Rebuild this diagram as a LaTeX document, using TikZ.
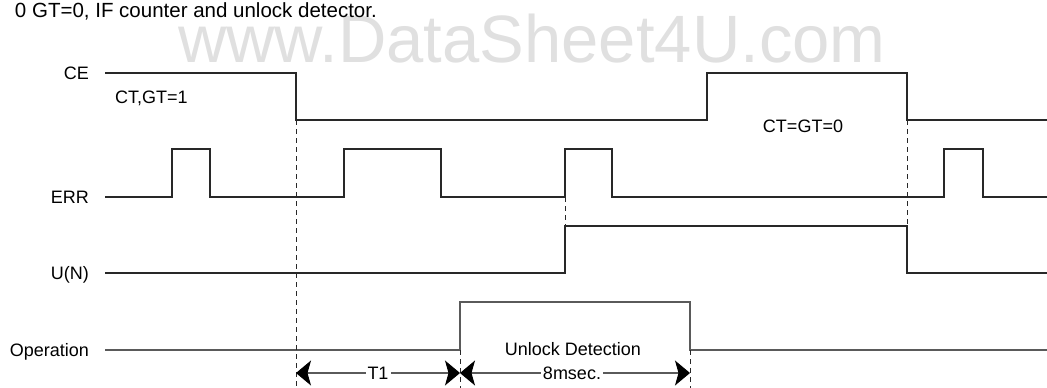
\documentclass[tikz,border=0pt]{standalone}
\usepackage{fontspec}
\setmainfont{Liberation Sans}
\usetikzlibrary{arrows.meta}
\definecolor{wmgray}{RGB}{224,224,224}
\definecolor{wavec}{RGB}{40,40,40}
\definecolor{opc}{RGB}{90,90,90}
\begin{document}
\begin{tikzpicture}[x=1pt,y=-1pt,
  lbl/.style={font=\fontsize{18}{20}\selectfont, inner sep=0pt},
  wave/.style={line width=1.2pt, draw=wavec, line join=miter},
  opwave/.style={line width=1.3pt, draw=opc},
  guide/.style={line width=0.9pt, draw=wavec, dash pattern=on 5pt off 4pt},
  dimline/.style={line width=1.1pt, draw=opc,
    {Stealth[length=15pt,width=25pt,inset=3.5pt,color=black]}-{Stealth[length=15pt,width=25pt,inset=3.5pt,color=black]}},
  dimlbl/.style={font=\fontsize{18}{20}\selectfont, fill=white, inner sep=2pt}]
\useasboundingbox (0,0) rectangle (1047,388);

% watermark and caption
\node[anchor=base west, font=\fontsize{67}{70}\selectfont, text=wmgray, inner sep=0pt] (wm) at (178,62) {www.DataSheet4U.com};
\node[anchor=base east, font=\fontsize{20.5}{22}\selectfont, inner sep=0pt] (title) at (377,17) {0 GT=0, IF counter and unlock detector.};

% signal names
\node[lbl, anchor=base east] (ce) at (89,79.5) {CE};
\node[lbl, anchor=base east] (err) at (89,203.5) {ERR};
\node[lbl, anchor=base east] (un) at (89,279.5) {U(N)};
\node[lbl, anchor=base east] (op) at (89,356.5) {Operation};

% annotations
\node[lbl, anchor=base west] (ct1) at (115,103.5) {CT,GT=1};
\node[lbl, anchor=base] (ct0) at (803,132.5) {CT=GT=0};
\node[lbl, anchor=base] (ud) at (573,355) {Unlock Detection};

% waveforms
\draw[wave] (105,73) -- (296,73) -- (296,120) -- (707,120) -- (707,73) -- (907,73) -- (907,120) -- (1047,120);
\draw[wave] (105,197) -- (172,197) -- (172,149) -- (210,149) -- (210,197)
  -- (344,197) -- (344,149) -- (441,149) -- (441,197)
  -- (565,197) -- (565,149) -- (612,149) -- (612,197)
  -- (944,197) -- (944,149) -- (983,149) -- (983,197) -- (1047,197);
\draw[wave] (105,273) -- (565,273) -- (565,226) -- (907,226) -- (907,273) -- (1047,273);
\draw[opwave] (105,350) -- (460,350) -- (460,302) -- (690,302) -- (690,350) -- (1047,350);

% guide lines
\draw[guide] (296,120) -- (296,388);
\draw[guide] (907,120) -- (907,226);
\draw[guide] (565,197) -- (565,226);
\draw[guide] (460,350) -- (460,388);
\draw[guide] (690,350) -- (690,388);

% dimension arrows
\coordinate (a1) at (296,373);
\coordinate (a2) at (460,373);
\coordinate (a3) at (690,373);
\draw[dimline] (a1) -- node[dimlbl] (t1) {T1} (a2);
\draw[dimline] (a2) -- node[dimlbl, xshift=-3pt] (ms) {8msec.} (a3);
\end{tikzpicture}
\end{document}
